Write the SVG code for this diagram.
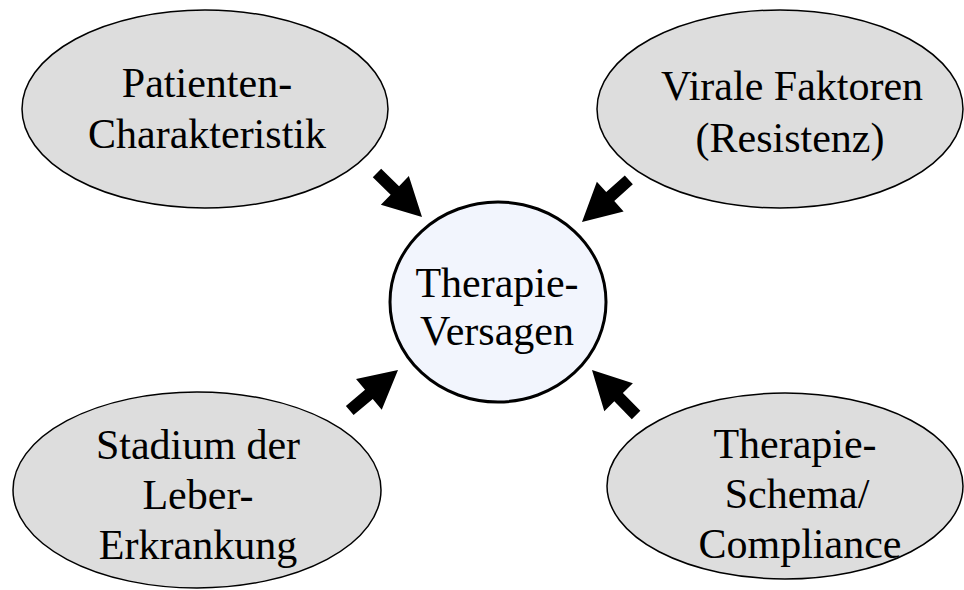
<svg xmlns="http://www.w3.org/2000/svg" width="964" height="590" viewBox="0 0 964 590">
<style>
.factor{fill:#dddddd;stroke:#000;stroke-width:1.5}
.center{fill:#f2f5fd;stroke:#000;stroke-width:3}
text{font-family:"Liberation Serif","Times New Roman",serif;font-size:42px;fill:#000;text-anchor:middle}
.arrow{fill:#000}
</style>
<defs>
<polygon id="blk" points="-63,-6 -38,-6 -38,-20 0,0 -38,20 -38,6 -63,6"/>
</defs>
<rect width="964" height="590" fill="#fff"/>
<g id="patient">
<ellipse class="factor" cx="205" cy="109" rx="183" ry="99"/>
<text x="207" y="97">Patienten-</text>
<text x="207" y="148">Charakteristik</text>
</g>
<g id="viral">
<ellipse class="factor" cx="780" cy="109" rx="183" ry="99"/>
<text x="792" y="100">Virale Faktoren</text>
<text x="790" y="152">(Resistenz)</text>
</g>
<g id="stadium">
<ellipse class="factor" cx="197" cy="490" rx="184" ry="98"/>
<text x="198" y="459">Stadium der</text>
<text x="198" y="509">Leber-</text>
<text x="198" y="559">Erkrankung</text>
</g>
<g id="schema">
<ellipse class="factor" cx="785" cy="486" rx="178" ry="93"/>
<text x="795" y="458">Therapie-</text>
<text x="797" y="508">Schema/</text>
<text x="800" y="558">Compliance</text>
</g>
<g id="versagen">
<ellipse class="center" cx="498" cy="302" rx="108" ry="100"/>
<text x="497" y="297">Therapie-</text>
<text x="497" y="345">Versagen</text>
</g>
<g id="connectors" class="arrow">
<use href="#blk" transform="translate(422,217) rotate(44.4)"/>
<use href="#blk" transform="translate(582,222) rotate(138)"/>
<use href="#blk" transform="translate(398,370) rotate(-40)"/>
<use href="#blk" transform="translate(592,370) rotate(-134.4)"/>
</g>
</svg>
